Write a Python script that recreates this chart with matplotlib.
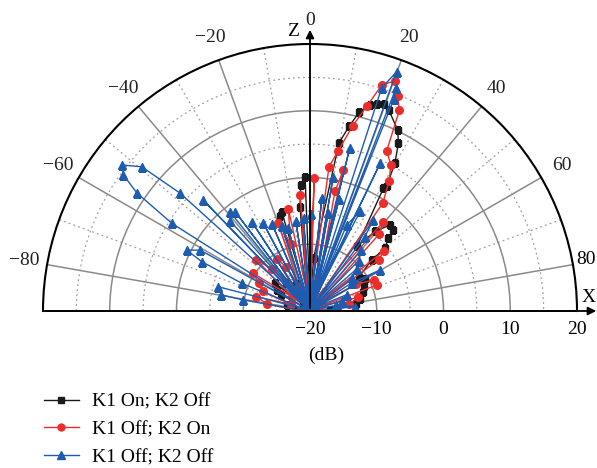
import numpy as np
import matplotlib.pyplot as plt
from matplotlib.ticker import FixedLocator
from matplotlib.lines import Line2D
from matplotlib.transforms import offset_copy

plt.rcParams['font.family'] = ['Liberation Serif', 'DejaVu Serif']

# angle (deg, 0 = Z axis, positive towards X) and gain (dB), in drawing order
black_ang = [-88, -75, -62, -57.8, -51.6, -47, -40, -34, -28, -22, -17.7, -15.9, -12, -5.5, -4.2,
             -2.1, 0, 4, 9.8, 12.0, 13.9, 16.2, 18.0, 19.8, 21.5, 25.9, 27.8, 29.9, 31.5, 30.9,
             36, 39.3, 42.9, 45.6, 47.1, 50.1, 50.4, 55, 60, 65, 70, 76.5, 82, 88]
black_db = [-18, -16.5, -15, -14.1, -13.3, -18.5, -14.5, -18.5, -15.5, -18.5, -5.1, -4.6, -18.5, -4.3, -1.1,
            0.1, -18.5, -12, 5.6, 8.3, 10.7, 12.2, 12.6, 12.9, 12.3, 10.1, 8.4, 5.5, 2.0, 1.4,
            -8, -4.6, -2.4, -2.7, -4.0, -5.4, -8.0, -11, -10.5, -11, -11.5, -12.3, -13, -17]

red_ang = [-88, -81, -75, -71, -67, -61, -56.4, -52, -46.3, -42, -38, -33, -28, -24, -19.9, -16, -12, -9,
           -4.9, -2, 1.8, 4, 7.5, 10.0, 13.0, 15.5, 17.6, 20.3, 22.2, 24.0, 25.6, 29.0, 31.3, 34.0, 30,
           11.8, 13.3, 16, 39.4, 42, 45, 50.9, 53.3, 50, 60, 63.9, 68.7, 66, 74, 80, 86, 89]
red_db = [-18.5, -13.5, -11.7, -17, -12.3, -11.2, -9.8, -16.5, -8.9, -11.5, -17.5, -10.8, -12.5, -16,
          -6.0, -9.5, -4.4, -17.5, -2.6, -18.5, 0.0, -18.5, 1.8, 4.4, 8.5, 11.8, 15.5, 16.8, 14.8, 12.9,
          6.6, 5.0, 2.8, -0.5, -18.5, -1.7, 1.7, -18.5, -2.7, -4.5, -18.5, -5.7, -7.2, -18.5, -12, -9.4,
          -9.3, -18.5, -12.5, -14, -16, -18.5]

blue_ang = [-88, -80.6, -79.7, -75.2, -71, -67.9, -65.5, -63.7, -61, -58, -57.6, -55.7, -53.9, -52.2,
            -49.4, -47.8, -46, -43.9, -40, -38.9, -41.5, -38, -37, -35, -33.1, -30, -28, -26, -23.6, -21,
            -18.5, -16, -14.7, -12, -9, -7, -4, -2, 0.6, 3, 6, 8, 9.8, 12, 13.7, 15, 17.8, 19.9, 18, 21.1,
            21.6, 20, 14.6, 16, 25.4, 22, 10.5, 12, 26.7, 23.1, 25, 34.8, 36.5, 32, 40, 44, 40, 48, 52, 50,
            56, 59.6, 58, 66, 72, 70, 78, 84.5, 88]
blue_db = [-19, -9.9, -6.5, -5.8, -19, -9.0, -2.2, 0.6, -1.2, -19, 4.5, 11.4, 14.6, 15.7,
           13.2, 6.3, -19, 3.1, -19, -0.9, -1.9, -19, -1.4, -19, -4.0, -19, -5.1, -19, -5.7, -19,
           -6.6, -19, -7.2, -19, -6.4, -19, -6.1, -19, -5.4, -19, -3.0, -19, 0.4, -19, 5.2, -19, 15.1, 18.1, -19, 15.8,
           14.1, -19, -2.6, -19, 4.5, -19, -5.0, -19, -3.3, -6.0, -19, -3.4, -6.2, -19, -8, -9.5, -19, -10.5, -12, -19,
           -12.5, -7.9, -19, -14, -15, -19, -16, -13.2, -19]

labels = ['K1 On; K2 Off', 'K1 Off; K2 On', 'K1 Off; K2 Off']
colors = ['#1a1a1a', '#ec2d2a', '#1e5cb0']
markers = ['s', 'o', '^']
msizes = [4.5, 5.5, 6]

theta_major = [-80, -60, -40, -20, 0, 20, 40, 60, 80]
theta_minor = [-90, -70, -50, -30, -10, 10, 30, 50, 70, 90]
r_ticks = [-20, -10, 0, 10, 20]

fig = plt.figure(figsize=(5.97, 4.68), dpi=100)
# square box: the half disc is centred vertically inside it
ax = fig.add_axes([43 / 597, 23.5 / 468, 534 / 597, 534 / 468], projection='polar')
ax.set_theta_zero_location('N')
ax.set_theta_direction(-1)
ax.set_thetamin(-90)
ax.set_thetamax(90)
ax.set_rlim(-20, 20)

ax.set_xticks(np.deg2rad(theta_major))
# the 80 label sits against the right edge, drawn separately below
ax.set_xticklabels([str(t).replace('-', '\u2212') if t != 80 else '' for t in theta_major], fontsize=14)
ax.xaxis.set_minor_locator(FixedLocator(np.deg2rad(theta_minor)))
ax.set_yticks([-10, 0, 10])
ax.yaxis.set_minor_locator(FixedLocator([-15, -5, 5, 15]))
ax.set_yticklabels([])
ax.grid(which='major', color='#8a8a8a', lw=1.1, ls='-')
ax.grid(which='minor', color='#a0a0a0', lw=0.9, ls=(0, (1.5, 2.5)))
ax.tick_params(axis='x', which='major', direction='in', length=6, width=1.2, colors='#222222', pad=10)
ax.tick_params(axis='x', which='minor', direction='in', length=3, width=0.8)
ax.tick_params(axis='y', which='both', length=0)
ax.spines['polar'].set_linewidth(1.5)
for s in ['start', 'end']:
    ax.spines[s].set_linewidth(1.3)
    ax.spines[s].set_color('black')

series = [(black_ang, black_db), (red_ang, red_db), (blue_ang, blue_db)]
for (ang, db), c, m, ms in zip(series, colors, markers, msizes):
    ax.plot(np.deg2rad(ang), db, color=c, marker=m, ms=ms, lw=1.0)

trans = offset_copy(ax.transData, fig=fig, x=0, y=-18, units='dots')
for v in r_ticks:
    ax.text(np.deg2rad(90), v, str(v).replace('-', '\u2212'), transform=trans,
            ha='center', va='center', fontsize=14, clip_on=False)

# axes arrows
ax.annotate('', xy=(310 / 597, 1 - 27 / 468), xytext=(310 / 597, 1 - 311 / 468),
            xycoords='figure fraction', textcoords='figure fraction',
            arrowprops=dict(arrowstyle='-|>', color='black', lw=1.3, mutation_scale=12),
            annotation_clip=False)
ax.annotate('', xy=(599 / 597, 1 - 311 / 468), xytext=(43 / 597, 1 - 311 / 468),
            xycoords='figure fraction', textcoords='figure fraction',
            arrowprops=dict(arrowstyle='-|>', color='black', lw=1.3, mutation_scale=12),
            annotation_clip=False)
fig.text(293 / 597, 1 - 32 / 468, 'Z', fontsize=14, ha='center', va='center')
fig.text(596 / 597, 1 - 298 / 468, 'X', fontsize=14, ha='right', va='center')
fig.text(596 / 597, 1 - 260 / 468, '80', fontsize=14, ha='right', va='center')
fig.text(326 / 597, 1 - 355 / 468, '(dB)', fontsize=14, ha='center', va='center')

handles = [Line2D([], [], color=c, marker=m, ms=ms - 0.5, lw=1.0) for c, m, ms in zip(colors, markers, msizes)]
fig.legend(handles, labels, loc='upper left', bbox_to_anchor=(34 / 597, 1 - 383 / 468), frameon=False,
           fontsize=14, handlelength=1.8, handletextpad=0.7, labelspacing=0.53, borderpad=0)

fig.savefig('out.png', dpi=100)
